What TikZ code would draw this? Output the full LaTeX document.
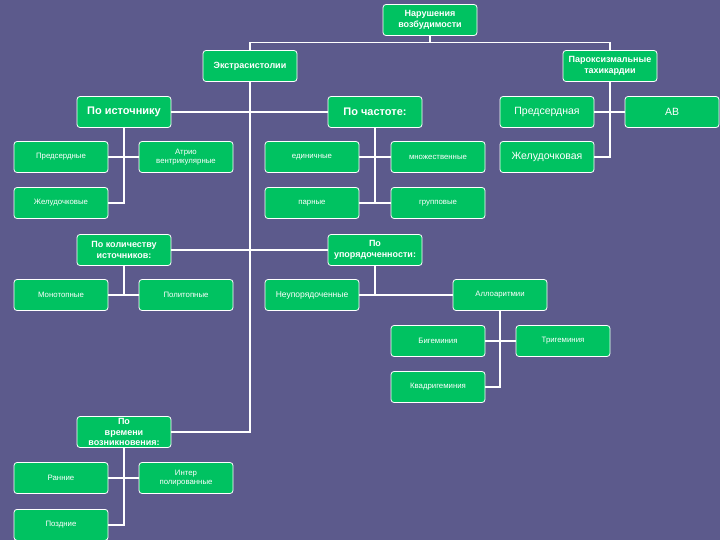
\documentclass[tikz,border=0pt]{standalone}
\usepackage{fontspec}
\setmainfont{Liberation Sans}
\definecolor{bg}{HTML}{5C5A8C}
\definecolor{bx}{HTML}{00C261}
\begin{document}
\begin{tikzpicture}[x=1pt,y=-1pt,
 b/.style={draw=white,line width=0.8pt,fill=bx,rounded corners=3pt,minimum width=94pt,minimum height=31pt,inner sep=1pt,text=white,font=\fontsize{7.8}{9}\selectfont,align=center},
 h/.style={b,font=\bfseries\fontsize{9}{10.5}\selectfont},
 m/.style={b,font=\fontsize{10.5}{12}\selectfont},
 c/.style={draw=white,line width=1.2pt}]
\fill[bg] (0,0) rectangle (720,540);
\useasboundingbox (0,0) rectangle (720,540);
\node[h] (root) at (430,20) {Нарушения\\возбудимости};
\node[h] (ext) at (250,66) {Экстрасистолии};
\node[h] (par) at (610,66) {Пароксизмальные\\тахикардии};
\node[h,font=\bfseries\fontsize{11}{12}\selectfont] (ist) at (124,112) {По источнику};
\node[h,font=\bfseries\fontsize{11}{12}\selectfont] (chas) at (375,112) {По частоте:};
\node[m] (pt) at (547,112) {Предсердная};
\node[m] (av) at (672,112) {АВ};
\node[m] (gt) at (547,157) {Желудочковая};
\node[b] (pr) at (61,157) {Предсердные};
\node[b] (atr) at (186,157) {Атрио\\вентрикулярные};
\node[b] (zh) at (61,203) {Желудочковые};
\node[b] (ed) at (312,157) {единичные};
\node[b] (mn) at (438,157) {множественные};
\node[b] (pa) at (312,203) {парные};
\node[b] (gr) at (438,203) {групповые};
\node[h] (kol) at (124,250) {По количеству\\источников:};
\node[h] (upo) at (375,250) {По\\упорядоченности:};
\node[b] (mono) at (61,295) {Монотопные};
\node[b] (poli) at (186,295) {Политопные};
\node[b,font=\fontsize{8.5}{10}\selectfont] (neu) at (312,295) {Неупорядоченные};
\node[b] (allo) at (500,295) {Аллоаритмии};
\node[b] (big) at (438,341) {Бигеминия};
\node[b] (trig) at (563,341) {Тригеминия};
\node[b] (kv) at (438,387) {Квадригеминия};
\node[h] (vr) at (124,432) {По\\времени\\возникновения:};
\node[b] (ran) at (61,478) {Ранние};
\node[b] (int) at (186,478) {Интер\\полированные};
\node[b,anchor=north] (poz) at (61,509) {Поздние};
% connectors
\draw[c] (root.south) -- ++(0,7) -| (ext.north);
\draw[c] (root.south) -- ++(0,7) -| (par.north);
\draw[c] (ext.south) |- (vr.east);
\draw[c] (ist.east) -- (chas.west);
\draw[c] (kol.east) -- (upo.west);
\draw[c] (par.south) |- (gt.east);
\draw[c] (pt.east) -- (av.west);
\draw[c] (ist.south) |- (zh.east);
\draw[c] (pr.east) -- (atr.west);
\draw[c] (chas.south) |- (pa.east);
\draw[c] (ed.east) -- (mn.west);
\draw[c] (pa.east) -- (gr.west);
\draw[c] (kol.south) -- (kol.south |- mono.east);
\draw[c] (mono.east) -- (poli.west);
\draw[c] (upo.south) -- (upo.south |- neu.east);
\draw[c] (neu.east) -- (allo.west);
\draw[c] (allo.south) |- (kv.east);
\draw[c] (big.east) -- (trig.west);
\draw[c] (vr.south) |- (poz.east);
\draw[c] (ran.east) -- (int.west);
\end{tikzpicture}
\end{document}
